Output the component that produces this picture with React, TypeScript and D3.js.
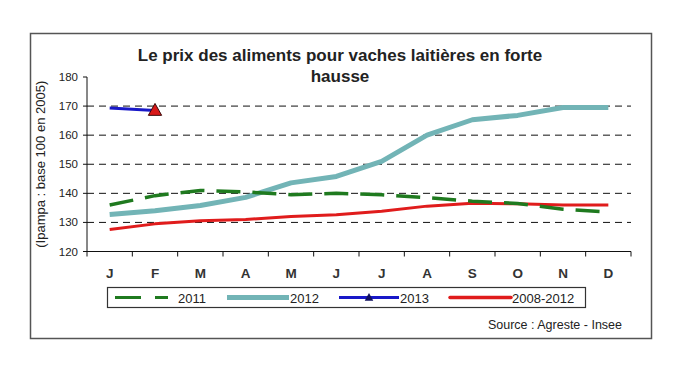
import React from "react";
import * as d3 from "d3";

const months = ["J", "F", "M", "A", "M", "J", "J", "A", "S", "O", "N", "D"];
const yTicks = [120, 130, 140, 150, 160, 170, 180];
const gridValues = [130, 140, 150, 160, 170];
const s2011 = [136, 139.2, 141, 140.5, 139.5, 140, 139.5, 138.5, 137.3, 136.5, 134.5, 133.6];
const s2012 = [132.7, 134, 135.8, 138.6, 143.6, 145.8, 151, 160, 165.3, 166.8, 169.5, 169.5];
const s2013 = [169.3, 168.5];
const s0812 = [127.6, 129.5, 130.6, 131, 132, 132.6, 133.8, 135.6, 136.6, 136.4, 136, 136];
const legendLabels = ["2011", "2012", "2013", "2008-2012"];

const FONT = "Liberation Sans, Arial, sans-serif";
const C2011 = "#1f7a1f";
const C2012 = "#72b4b6";
const C2013 = "#1818c8";
const C0812 = "#e01c1c";

export default function App() {
  const x = d3.scaleBand<number>().domain(months.map((_, i) => i)).range([87, 631]).padding(0);
  const y = d3.scaleLinear().domain([120, 180]).range([251.5, 77]);
  const cx = (i: number) => (x(i) as number) + x.bandwidth() / 2;
  const line = d3
    .line<number>()
    .x((_, i) => cx(i))
    .y((d) => y(d));

  const triPath = (px: number, py: number, s: number) =>
    `M${px},${py - s}L${px + s * 0.95},${py + s * 0.7}L${px - s * 0.95},${py + s * 0.7}Z`;

  const legY = 297.5;
  const legFont = 13;
  return (
    <div style={{ position: "absolute", left: 0, top: 0 }}>
      <svg width={681} height={376} style={{ display: "block", background: "#fff" }}>
        <rect x={30.5} y={33.5} width={621} height={305} fill="#fff" stroke="#555" strokeWidth={1.5} />
        <text x={340} y={61} textAnchor="middle" fontFamily={FONT} fontWeight="bold" fontSize={17} fill="#222">
          Le prix des aliments pour vaches laitières en forte
        </text>
        <text x={340} y={82} textAnchor="middle" fontFamily={FONT} fontWeight="bold" fontSize={17} fill="#222">
          hausse
        </text>
        {/* grid */}
        {gridValues.map((v) => (
          <line key={v} x1={87} x2={631} y1={y(v)} y2={y(v)} stroke="#111" strokeWidth={1} strokeDasharray="7,5" />
        ))}
        {/* y axis */}
        <line x1={87} x2={87} y1={y(180)} y2={y(120)} stroke="#111" strokeWidth={1} />
        {yTicks.map((v) => (
          <g key={v}>
            <line x1={83} x2={87} y1={y(v)} y2={y(v)} stroke="#111" />
            <text x={78} y={y(v) + 4} textAnchor="end" fontFamily={FONT} fontSize={11.5} fill="#222">
              {v}
            </text>
          </g>
        ))}
        <text
          transform={`translate(45,${(y(180) + y(120)) / 2}) rotate(-90)`}
          textAnchor="middle"
          fontFamily={FONT}
          fontSize={13}
          fill="#222"
        >
          (Ipampa : base 100 en 2005)
        </text>
        {/* x axis */}
        <line x1={87} x2={631} y1={y(120)} y2={y(120)} stroke="#111" />
        {months.map((_, i) => (
          <line key={i} x1={x(i) as number} x2={x(i) as number} y1={y(120)} y2={y(120) + 5} stroke="#111" />
        ))}
        <line x1={631} x2={631} y1={y(120)} y2={y(120) + 5} stroke="#111" />
        {months.map((m, i) => (
          <text key={i} x={cx(i)} y={278} textAnchor="middle" fontFamily={FONT} fontWeight="bold" fontSize={13.5} fill="#333">
            {m}
          </text>
        ))}
        {/* series */}
        <path d={line(s0812) || ""} fill="none" stroke={C0812} strokeWidth={3} strokeLinejoin="round" />
        <path d={line(s2012) || ""} fill="none" stroke={C2012} strokeWidth={5} strokeLinejoin="round" />
        <path d={line(s2011) || ""} fill="none" stroke={C2011} strokeWidth={3.5} strokeDasharray="24,12" />
        <path d={line(s2013) || ""} fill="none" stroke={C2013} strokeWidth={3} />
        <path d={triPath(cx(1), y(s2013[1]), 7)} fill="#d81818" stroke="#3a0a0a" strokeWidth={1} />
        {/* legend */}
        <rect x={107.5} y={287.5} width={478} height={20} fill="#fff" stroke="#333" strokeWidth={1.2} />
        <line x1={115} x2={168} y1={legY} y2={legY} stroke={C2011} strokeWidth={3} strokeDasharray="26,14" />
        <text x={178} y={legY + 5} fontFamily={FONT} fontSize={legFont} fill="#222">{legendLabels[0]}</text>
        <line x1={227} x2={289} y1={legY} y2={legY} stroke={C2012} strokeWidth={5} />
        <text x={290} y={legY + 5} fontFamily={FONT} fontSize={legFont} fill="#222">{legendLabels[1]}</text>
        <line x1={339} x2={399} y1={legY} y2={legY} stroke={C2013} strokeWidth={3} />
        <path d={triPath(369, legY, 4.5)} fill="#101060" />
        <text x={400} y={legY + 5} fontFamily={FONT} fontSize={legFont} fill="#222">{legendLabels[2]}</text>
        <line x1={450} x2={511} y1={legY} y2={legY} stroke={C0812} strokeWidth={3.5} strokeLinecap="round" />
        <text x={512} y={legY + 5} fontFamily={FONT} fontSize={legFont} fill="#222">{legendLabels[3]}</text>
        <text x={622} y={329} textAnchor="end" fontFamily={FONT} fontSize={12.5} fill="#222">
          Source : Agreste - Insee
        </text>
      </svg>
    </div>
  );
}
